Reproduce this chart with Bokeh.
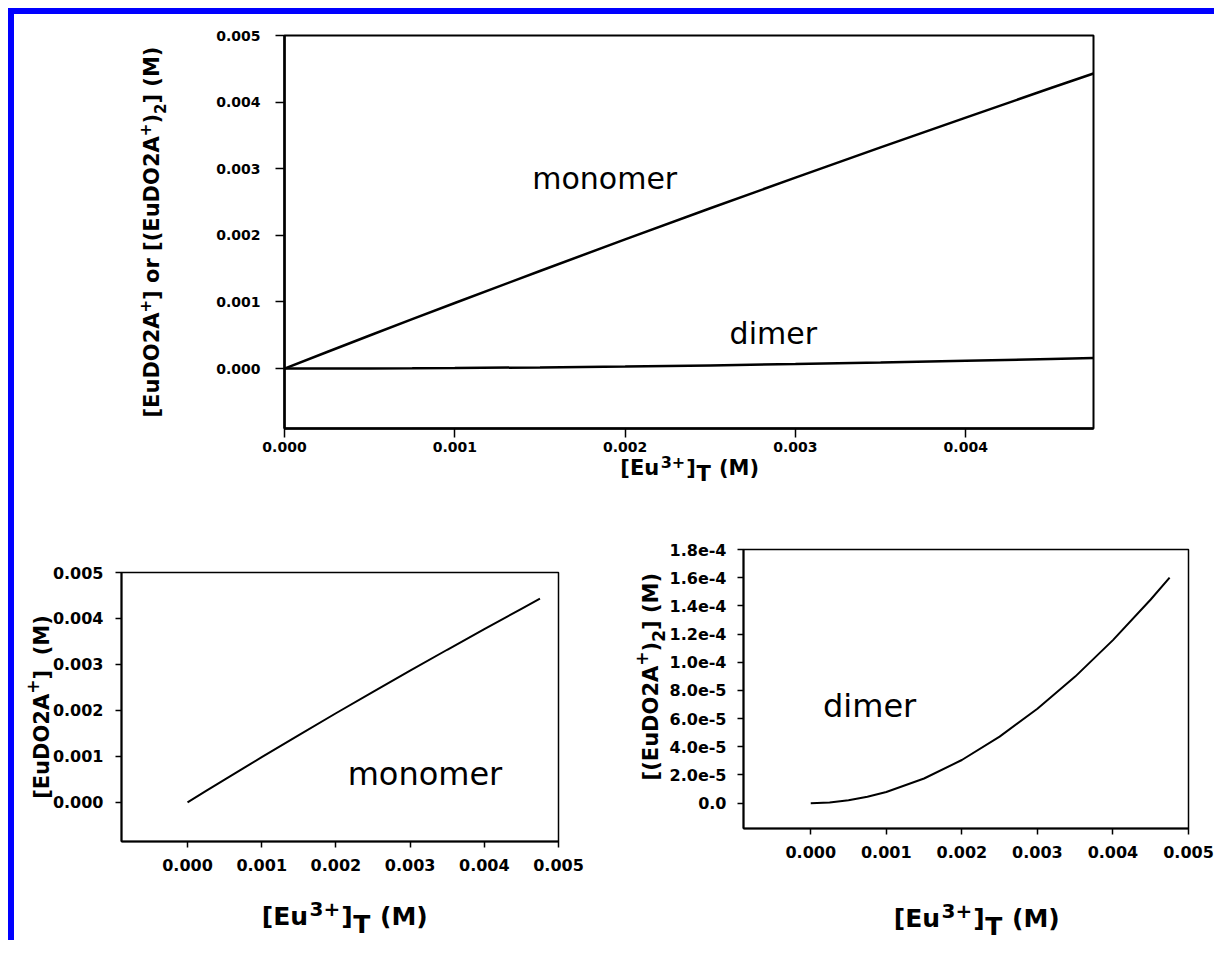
import math
from bokeh.plotting import figure
from bokeh.models import Label, FixedTicker, Range1d, Spacer, BoxAnnotation
from bokeh.layouts import row, column
from bokeh.embed import file_html
from bokeh.resources import INLINE

# ---- data ----
total_eu = [0.0, 0.00025, 0.0005, 0.00075, 0.001, 0.0015, 0.002, 0.0025, 0.003, 0.0035, 0.004, 0.0045, 0.00475]
monomer = [0.0, 0.000249, 0.000496, 0.000741, 0.000984, 0.001465, 0.001939, 0.002406, 0.002866, 0.00332,
           0.003768, 0.004211, 0.00443]
dimer = [0.0, 5.0e-7, 2.0e-6, 4.5e-6, 7.9e-6, 1.75e-5, 3.06e-5, 4.72e-5, 6.70e-5, 8.98e-5,
         1.157e-4, 1.445e-4, 1.60e-4]

conc_ticks = [0.0, 0.001, 0.002, 0.003, 0.004, 0.005]
conc_tick_labels = ["0.000", "0.001", "0.002", "0.003", "0.004", "0.005"]
dimer_ticks = [0.0, 2e-5, 4e-5, 6e-5, 8e-5, 1e-4, 1.2e-4, 1.4e-4, 1.6e-4, 1.8e-4]
dimer_tick_labels = ["0.0", "2.0e-5", "4.0e-5", "6.0e-5", "8.0e-5", "1.0e-4",
                     "1.2e-4", "1.4e-4", "1.6e-4", "1.8e-4"]

FONT = "DejaVu Sans"
BOLD_W = {'[': 0.458, ']': 0.458, '(': 0.458, ')': 0.458, 'E': 0.683, 'u': 0.712,
          'D': 0.830, 'O': 0.850, '2': 0.696, '3': 0.696, 'A': 0.774, '+': 0.838,
          ' ': 0.348, 'o': 0.687, 'r': 0.493, 'M': 0.996, 'T': 0.682}
BASE_FIX = 0.35  # baseline correction, in em


def tw(s, size, trk=0.0):
    return sum(BOLD_W.get(c, 0.65) * size + trk for c in s)


def horiz_label(p, x0, y0, cx, base, pieces, trk=0.0):
    total = sum(tw(t, s, trk) for t, s, r in pieces)
    x = cx - total / 2
    for t, s, r in pieces:
        lead = len(t) - len(t.lstrip(" "))
        xs = x + tw(" " * lead, s, trk)
        p.add_layout(Label(x=x0, y=y0, x_offset=xs, y_offset=base + r + BASE_FIX * s, text=t.strip(" "),
                           text_font=FONT, text_font_size=f"{s}px", text_font_style="bold",
                           text_color="black", text_align="left", text_baseline="alphabetic"))
        x += tw(t, s, trk)


def vert_label(p, x0, y0, base, cy, pieces, trk=0.0):
    total = sum(tw(t, s, trk) for t, s, r in pieces)
    y = cy - total / 2
    for t, s, r in pieces:
        lead = len(t) - len(t.lstrip(" "))
        ys = y + tw(" " * lead, s, trk)
        p.add_layout(Label(x=x0, y=y0, x_offset=base - r - BASE_FIX * s, y_offset=ys, text=t.strip(" "),
                           angle=math.pi / 2,
                           text_font=FONT, text_font_size=f"{s}px", text_font_style="bold",
                           text_color="black", text_align="left", text_baseline="alphabetic"))
        y += tw(t, s, trk)


def full_range(v0, v1, lo_px, span_px, hi_px):
    k = (v1 - v0) / span_px
    return (v0 - lo_px * k, v1 + hi_px * k)


def make_fig(w, h, xr, yr, left, right, top, bottom, tick_font, tick_out, axis_w, outline_w,
             xstand, ystand):
    fw = w - left - right
    fh = h - top - bottom
    p = figure(width=w, height=h,
               x_range=Range1d(*full_range(xr[0], xr[1], left, fw, right)),
               y_range=Range1d(*full_range(yr[0], yr[1], bottom, fh, top)),
               output_backend="svg", toolbar_location=None,
               min_border_left=0, min_border_right=0, min_border_top=0, min_border_bottom=0)
    p.grid.visible = False
    p.background_fill_color = "white"
    p.border_fill_color = "white"
    p.outline_line_color = None
    p.xaxis.fixed_location = yr[0]
    p.xaxis.bounds = xr
    p.yaxis.fixed_location = xr[0]
    p.yaxis.bounds = yr
    for ax in (p.xaxis[0], p.yaxis[0]):
        ax.axis_line_width = axis_w
        ax.axis_line_color = "black"
        ax.major_tick_line_width = 1.5
        ax.major_tick_line_color = "black"
        ax.major_tick_out = tick_out
        ax.major_tick_in = 0
        ax.minor_tick_line_color = None
        ax.major_label_text_font = FONT
        ax.major_label_text_font_style = "bold"
        ax.major_label_text_font_size = tick_font
        ax.major_label_text_color = "black"
    p.xaxis.major_label_standoff = xstand
    p.yaxis.major_label_standoff = ystand
    p.add_layout(BoxAnnotation(left=xr[0], right=xr[1], bottom=yr[0], top=yr[1],
                               fill_alpha=0, fill_color=None, line_color="black",
                               line_alpha=1.0, line_width=outline_w))
    return p


# ---------------- top plot ----------------
top_xr = (0.0, 0.00475)
top_yr = (-0.0009, 0.005)
pt = make_fig(1200, 486, top_xr, top_yr, 270, 121, 21, 72, "14px", 9, 2.5, 2, 4, 15)
pt.xaxis.ticker = FixedTicker(ticks=conc_ticks[:5])
pt.xaxis.major_label_overrides = dict(zip(conc_ticks, conc_tick_labels))
pt.yaxis.ticker = FixedTicker(ticks=conc_ticks)
pt.yaxis.major_label_overrides = dict(zip(conc_ticks, conc_tick_labels))
pt.line(total_eu, monomer, line_color="black", line_width=2.5)
pt.line(total_eu, dimer, line_color="black", line_width=2.5)
pt.add_layout(Label(x=0.00188, y=0.00285, text="monomer", text_font=FONT, text_font_size="30px",
                    text_align="center", text_baseline="middle", text_color="black"))
pt.add_layout(Label(x=0.00287, y=0.000525, text="dimer", text_font=FONT, text_font_size="30px",
                    text_align="center", text_baseline="middle", text_color="black"))
horiz_label(pt, top_xr[0], top_yr[0], 406, -47,
            [("[Eu", 21, 0), ("3+", 16, 8), ("]", 21, 0), ("T", 21, -6), (" (M)", 21, 0)], trk=0.5)
vert_label(pt, top_xr[0], (top_yr[0] + top_yr[1]) / 2, -125, 0,
           [("[EuDO2A", 21, 0), ("+", 15, 9), ("] or [(EuDO2A", 21, 0), ("+", 15, 9),
            (")", 21, 0), ("2", 15, -6), ("] (M)", 21, 0)])

# ---------------- bottom left ----------------
bl_xr = (-0.00089, 0.005)
bl_yr = (-0.00085, 0.005)
pl = make_fig(586, 440, bl_xr, bl_yr, 107, 42, 72, 99, "16px", 6, 2, 1.5, 11, 12)
pl.xaxis.ticker = FixedTicker(ticks=conc_ticks)
pl.xaxis.major_label_overrides = dict(zip(conc_ticks, conc_tick_labels))
pl.yaxis.ticker = FixedTicker(ticks=conc_ticks)
pl.yaxis.major_label_overrides = dict(zip(conc_ticks, conc_tick_labels))
pl.line(total_eu, monomer, line_color="black", line_width=2)
pl.add_layout(Label(x=0.0032, y=0.00061, text="monomer", text_font=FONT, text_font_size="32px",
                    text_align="center", text_baseline="middle", text_color="black"))
horiz_label(pl, bl_xr[0], bl_yr[0], 224, -84,
            [("[Eu", 25, 0), ("3+", 20, 10), ("]", 25, 0), ("T", 25, -8), (" (M)", 25, 0)], trk=0.5)
vert_label(pl, bl_xr[0], (bl_yr[0] + bl_yr[1]) / 2, -72, 0,
           [("[EuDO2A", 21, 0), ("+", 17, 11), ("]", 21, 0), ("  (M)", 21, 0)])

# ---------------- bottom right ----------------
br_xr = (-0.00089, 0.005)
br_yr = (-1.8e-5, 1.8e-4)
pr = make_fig(614, 440, br_xr, br_yr, 143, 26, 49, 112, "16px", 6, 2, 1.5, 11, 11)
pr.xaxis.ticker = FixedTicker(ticks=conc_ticks)
pr.xaxis.major_label_overrides = dict(zip(conc_ticks, conc_tick_labels))
pr.yaxis.ticker = FixedTicker(ticks=dimer_ticks)
pr.yaxis.major_label_overrides = dict(zip(dimer_ticks, dimer_tick_labels))
pr.line(total_eu, dimer, line_color="black", line_width=2)
pr.add_layout(Label(x=0.00078, y=6.86e-5, text="dimer", text_font=FONT, text_font_size="32px",
                    text_align="center", text_baseline="middle", text_color="black"))
horiz_label(pr, br_xr[0], br_yr[0], 234, -99,
            [("[Eu", 25, 0), ("3+", 20, 10), ("]", 25, 0), ("T", 25, -8), (" (M)", 25, 0)], trk=0.5)
vert_label(pr, br_xr[0], (br_yr[0] + br_yr[1]) / 2, -85, 16,
           [("[(EuDO2A", 21, 0), ("+", 17, 11), (")", 21, 0), ("2", 17, -6), ("]  (M)", 21, 0)])

# ---------------- layout with page margin and blue frame lines ----------------
blue = {"background-color": "#0000ff"}
left_bar = Spacer(width=6, height=932, styles=blue)
top_bar = Spacer(width=1200, height=6, styles=blue)
layout = column(Spacer(width=1214, height=8),
                row(Spacer(width=8, height=932), left_bar,
                    column(top_bar, pt, row(pl, pr))))

open("out.html", "w").write(file_html(layout, INLINE))
